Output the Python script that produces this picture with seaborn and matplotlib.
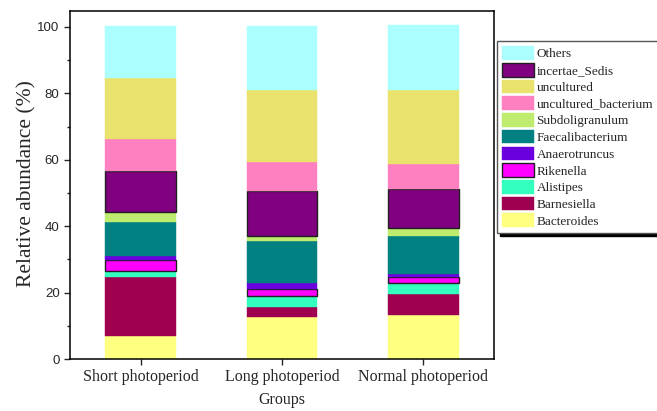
import matplotlib
matplotlib.use("Agg")
import matplotlib.pyplot as plt
import seaborn as sns
import numpy as np
from matplotlib.ticker import MultipleLocator

groups = ["Short photoperiod", "Long photoperiod", "Normal photoperiod"]
taxa = ["Bacteroides", "Barnesiella", "Alistipes", "Rikenella", "Anaerotruncus",
        "Faecalibacterium", "Subdoligranulum", "incertae_Sedis",
        "uncultured_bacterium", "uncultured", "Others"]
legend_order = ["Others", "incertae_Sedis", "uncultured", "uncultured_bacterium",
                "Subdoligranulum", "Faecalibacterium", "Anaerotruncus", "Rikenella",
                "Alistipes", "Barnesiella", "Bacteroides"]

bacteroides = [7.0, 12.6, 13.3]
barnesiella = [17.7, 3.2, 6.4]
alistipes = [1.9, 3.2, 3.2]
rikenella = [3.2, 2.2, 1.8]
anaerotruncus = [1.3, 1.6, 1.0]
faecalibacterium = [10.3, 12.6, 11.4]
subdoligranulum = [2.8, 1.6, 2.3]
incertae_sedis = [12.3, 13.5, 11.8]
uncultured_bacterium = [9.8, 8.9, 7.4]
uncultured = [18.4, 21.5, 22.4]
others = [15.6, 19.4, 19.7]

series = [bacteroides, barnesiella, alistipes, rikenella, anaerotruncus,
          faecalibacterium, subdoligranulum, incertae_sedis,
          uncultured_bacterium, uncultured, others]

colors = ["#FFFF80", "#A00050", "#33FFBF", "#FF00FF", "#6A00DD",
          "#008080", "#BDEC6E", "#800080", "#FF80C0", "#E9E36E", "#ABFFFF"]
outlined = {"incertae_Sedis", "Rikenella"}

sns.set_style("ticks")
plt.rcParams["font.family"] = ["Liberation Serif", "DejaVu Serif"]

fig = plt.figure(figsize=(6.57, 4.11), dpi=100)
ax = fig.add_axes([70/657, 1-359/411, (494-70)/657, (359-11)/411])

bottom = np.zeros(len(groups))
for name, vals, col in zip(taxa, series, colors):
    vals = np.asarray(vals, dtype=float)
    if name in outlined:
        ec, lw = "#202020", 1.0
    else:
        ec, lw = col, 0.3
    sns.barplot(x=groups, y=vals, bottom=bottom, color=col, width=0.5,
                edgecolor=ec, linewidth=lw, saturation=1, ax=ax, label=name)
    bottom = bottom + vals

handles, labels = ax.get_legend_handles_labels()
if ax.get_legend() is not None:
    ax.get_legend().remove()
hmap = dict(zip(labels, handles))

ax.set_xlim(-0.5, 2.5)
ax.set_ylim(0, 104.8)
ax.yaxis.set_major_locator(MultipleLocator(20))
ax.yaxis.set_minor_locator(MultipleLocator(10))
for s in ax.spines.values():
    s.set_visible(True)
    s.set_linewidth(1.1)
    s.set_color("black")
ax.tick_params(axis="y", which="major", direction="out", length=4, width=1, right=False)
ax.tick_params(axis="y", which="minor", direction="out", length=2.5, width=1, right=False)
ax.tick_params(axis="x", direction="out", length=4, width=1, top=False, pad=3)
for lab in ax.get_yticklabels():
    lab.set_fontfamily(["Liberation Sans", "DejaVu Sans"])
    lab.set_fontsize(9.5)
for lab in ax.get_xticklabels():
    lab.set_fontsize(11.5)
ax.set_xlabel("Groups", fontsize=11.5, labelpad=5)
ax.set_ylabel("Relative abundance (%)", fontsize=15.5)
ax.yaxis.set_label_coords((36 - 70) / 424, 0.505)

leg = fig.legend([hmap[n] for n in legend_order], legend_order, loc="upper left",
                 bbox_to_anchor=(497/657, 1-41/411), bbox_transform=fig.transFigure,
                 borderaxespad=0, fontsize=9.5, handlelength=2.4, handleheight=1.2,
                 handletextpad=0.2, labelspacing=0.19, borderpad=0.4,
                 fancybox=False, frameon=True, framealpha=1,
                 edgecolor="#555555",
                 shadow={"color": "black", "alpha": 1})
leg.get_frame().set_linewidth(1.0)

fig.savefig("out.png", dpi=100)
